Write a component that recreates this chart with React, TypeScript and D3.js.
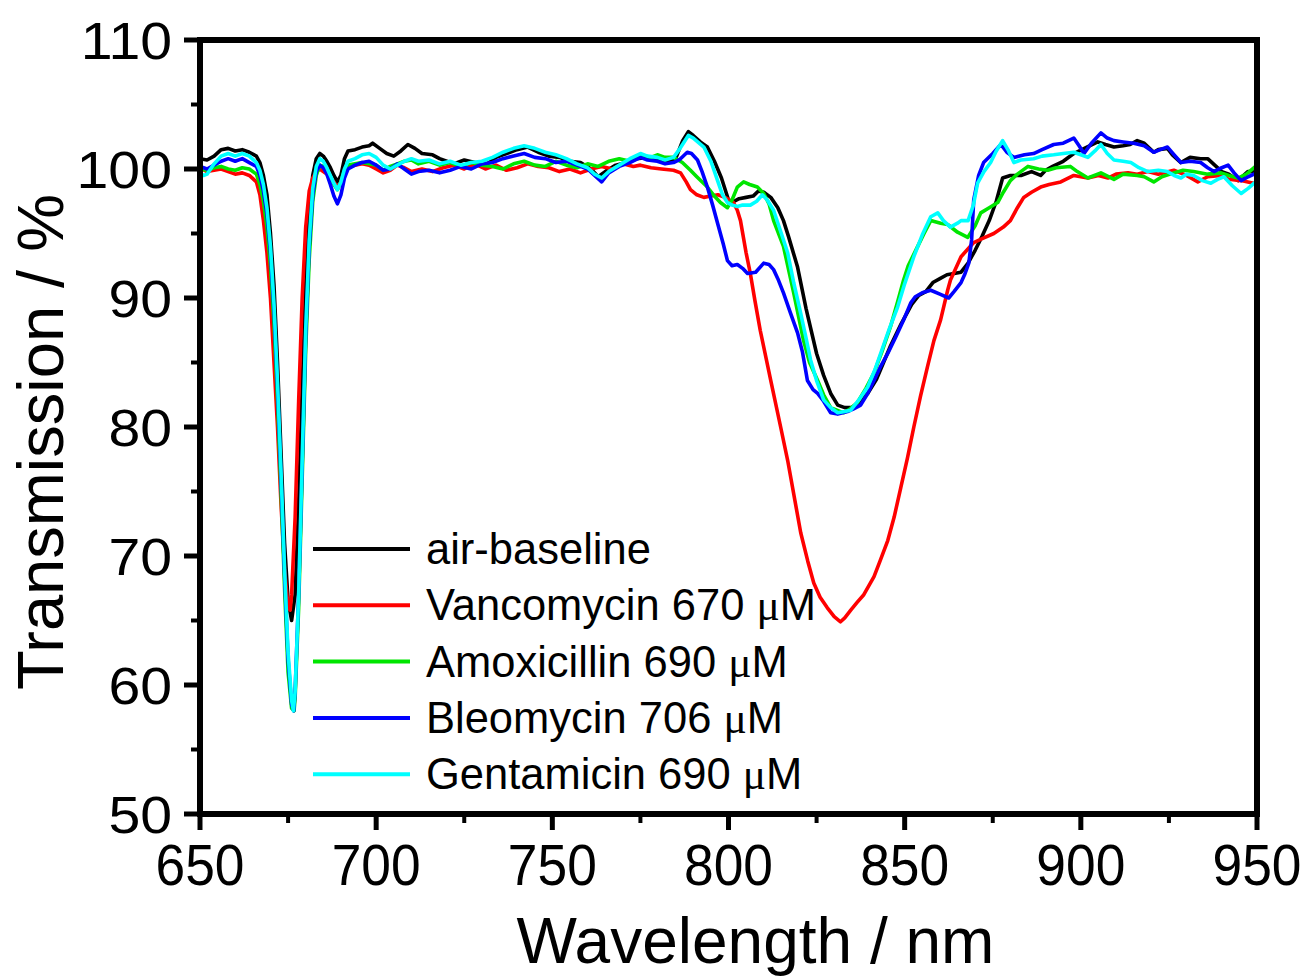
import React from "react";
import * as d3 from "d3";

// ---------- data ----------
const xTicks = [650, 700, 750, 800, 850, 900, 950];
const yTicks = [50, 60, 70, 80, 90, 100, 110];

const airBaseline: [number, number][] = [
  [650, 100.8], [652, 100.7], [654, 101.0], [656, 101.5], [658, 101.6], [660, 101.4], [662, 101.5], [664, 101.3], [666, 101.0],
  [667, 100.5], [668, 99.5], [669, 98], [670, 95], [671, 91], [672, 85], [673, 78], [674, 71], [675, 66.5], [676, 65],
  [677, 67], [678, 74], [679, 83], [680, 91], [681, 96.5], [682, 99.5], [683, 100.8], [684, 101.2], [685, 101.0], [686, 100.6],
  [687, 100.1], [688, 99.5], [689, 99.0], [690, 99.5], [691, 100.8], [692, 101.4], [694, 101.5], [696, 101.7], [698, 101.8],
  [699, 102.0], [701, 101.6], [703, 101.2], [705, 101.0], [707, 101.4], [709, 101.9], [711, 101.6], [713, 101.2], [716, 101.1],
  [718, 100.8], [720, 100.6], [722, 100.4], [725, 100.7], [728, 100.5], [731, 100.3], [734, 100.9], [737, 101.2], [740, 101.5],
  [743, 101.7], [746, 101.3], [749, 101.0], [752, 100.9], [755, 100.6], [758, 100.5], [761, 100.0], [763, 99.4], [765, 99.8],
  [768, 100.3], [771, 100.5], [774, 100.8], [777, 100.9], [780, 100.7], [783, 100.6], [785, 100.8], [787, 102.2], [788.6, 102.9],
  [790, 102.6], [792, 102.1], [794, 101.7], [796, 100.6], [798, 99.3], [800, 97.6], [801, 97.4], [803, 97.7], [805, 97.8],
  [807, 97.9], [808.5, 98.3], [810, 98.2], [812, 97.8], [814, 97.0], [815.6, 96.0], [817, 94.8], [819.6, 92.4], [822, 89.2],
  [825, 85.7], [827, 84.0], [829, 82.6], [831, 81.7], [833, 81.5], [835, 81.5], [837, 81.9], [839.5, 82.6], [842, 83.7],
  [844, 85.0], [846, 86.3], [849, 88.0], [852, 89.5], [854, 90.2], [856, 90.5], [858, 91.2], [860, 91.5], [862, 91.8],
  [864, 91.9], [866, 92.0], [868, 92.7], [870, 93.7], [872, 94.8], [874, 96.0], [876, 97.5], [877.8, 99.3], [880, 99.5],
  [883, 99.5], [886, 99.8], [888.6, 99.5], [890, 99.9], [892, 100.2], [895, 100.6], [898, 101.2], [901, 101.6], [904.8, 102.1],
  [907, 101.9], [909.4, 101.7], [912, 101.8], [914, 101.9], [916, 102.2], [918, 102.0], [920.7, 101.3], [922, 101.5],
  [924.6, 101.6], [926, 101.1], [928.4, 100.5], [931, 100.9], [934, 100.8], [936, 100.8], [938, 100.3], [940, 99.8],
  [942, 99.6], [944.6, 99.1], [947.4, 99.8], [950, 99.8],
];

const vancomycin: [number, number][] = [
  [650, 100.1], [652, 99.8], [654, 99.9], [656, 100.0], [658, 99.8], [660, 99.6], [662, 99.7], [664, 99.5], [666, 99.0],
  [667, 98.0], [668, 96.0], [669, 93.5], [670, 90], [671, 85], [672, 80], [673, 74], [674, 69], [675, 66], [675.6, 65.8],
  [676, 67], [677, 73], [678, 82], [679, 90], [680, 95.5], [681, 98.3], [682, 99.3], [683, 99.8], [684, 100.0], [685, 99.8],
  [686, 99.6], [687, 99.3], [688, 99.0], [689, 98.6], [690, 99.0], [691, 99.8], [692, 100.2], [694, 100.3], [696, 100.4],
  [698, 100.3], [700, 100.0], [702, 99.7], [704, 99.9], [706, 100.3], [708, 100.1], [710, 99.8], [713, 100.0], [716, 99.8],
  [719, 100.1], [722, 100.3], [725, 100.0], [728, 100.4], [731, 100.0], [734, 100.3], [737, 99.9], [740, 100.1], [743, 100.4],
  [746, 100.2], [749, 100.1], [752, 99.8], [755, 100.0], [758, 99.7], [761, 100.0], [764, 100.2], [767, 100.0], [770, 100.4],
  [773, 100.2], [775, 100.3], [778, 100.1], [781, 100.0], [784.4, 99.9], [786.4, 99.7], [788, 99.0], [789.2, 98.4], [791, 98.0],
  [793, 97.8], [795, 97.9], [797, 98.0], [799, 97.8], [801.4, 97.4], [802.5, 96.8], [803.4, 96.0], [805, 93.5], [806.2, 91.9],
  [807.5, 89.8], [809, 87.5], [812, 83.6], [814.8, 80.0], [816.8, 77.4], [820.5, 71.8], [822.5, 69.6], [824.2, 67.9],
  [826, 66.8], [828, 66.0], [830, 65.3], [831.8, 64.9], [833, 65.2], [834.7, 65.8], [836.5, 66.4], [838.4, 67.0], [841.3, 68.4],
  [843, 69.6], [845.2, 71.2], [847, 73.0], [848.9, 75.3], [850.8, 77.6], [852.6, 80.0], [854.5, 82.4], [856.5, 84.7],
  [858.3, 86.7], [860.2, 88.3], [862.2, 90.6], [863, 91.4], [866, 93.2], [869.6, 94.3], [872, 94.6], [875.3, 95.0], [878, 95.5],
  [880, 96.0], [882, 97.0], [883.8, 97.8], [886, 98.2], [888.6, 98.6], [891, 98.8], [894.3, 99.0], [898, 99.5], [902, 99.3],
  [905, 99.5], [907.7, 99.3], [910, 99.6], [913.4, 99.7], [916, 99.6], [919, 99.8], [922, 99.6], [926.4, 99.9], [930, 99.5],
  [933.2, 99.0], [936, 99.4], [939.8, 99.5], [942, 99.2], [945.5, 99.1], [949, 98.9], [950, 99.0],
];

const amoxicillin: [number, number][] = [
  [650, 100.0], [652, 99.9], [654, 100.1], [656, 100.2], [658, 100.0], [660, 99.9], [662, 100.1], [664, 100.0], [666, 99.6],
  [667, 98.8], [668, 97.5], [669, 95.5], [670, 92.5], [671, 88], [672, 82], [673, 75], [674, 67.5], [675, 61], [676, 58.2],
  [676.7, 58.0], [677, 59], [678, 66], [679, 76], [680, 86], [681, 93], [682, 97.5], [683, 99.5], [684, 100.3], [685, 100.2],
  [686, 99.9], [687, 99.4], [688, 98.8], [689, 98.4], [690, 99.0], [691, 99.9], [692, 100.3], [694, 100.4], [696, 100.5],
  [698, 100.4], [700, 100.3], [702, 99.9], [704, 100.2], [706, 100.4], [708, 100.6], [710, 100.7], [712, 100.4], [715, 100.6],
  [718, 100.3], [721, 100.5], [724, 100.2], [727, 100.5], [730, 100.3], [733, 100.2], [736, 100.0], [739, 100.4], [742, 100.6],
  [745, 100.3], [748, 100.2], [751, 100.6], [754, 100.3], [757, 100.1], [760, 100.4], [763, 100.2], [766, 100.6], [769, 100.8],
  [772, 100.6], [775, 101.1], [778, 100.9], [779.8, 101.1], [782, 100.9], [784.4, 100.9], [786.9, 100.5], [789.2, 99.9],
  [791, 99.4], [794, 98.6], [796, 97.9], [797.7, 97.4], [799.7, 97.0], [801, 97.6], [802.5, 98.6], [804.3, 99.0], [806, 98.8],
  [808.2, 98.6], [810, 98.1], [811.5, 97.3], [812.8, 96.0], [815.6, 94.0], [818.5, 90.4], [821.3, 86.7], [823, 85.0],
  [825.3, 83.6], [827, 82.5], [829, 81.5], [832.7, 81.1], [834.5, 81.4], [836.6, 81.9], [839, 83.0], [841.3, 84.2],
  [843.5, 85.8], [846, 87.8], [848, 89.7], [849.7, 91.4], [851, 92.5], [853.7, 94.0], [855.5, 95.0], [857.4, 96.0],
  [860.2, 95.8], [862.2, 95.7], [865, 95.1], [867.9, 94.7], [870, 95.6], [871.6, 96.6], [874, 97.0], [876.4, 97.4], [878, 98.2],
  [880, 99.1], [882, 99.6], [885, 100.2], [888, 100.0], [890.6, 99.9], [893, 100.1], [897, 100.2], [899, 99.8], [902, 99.3],
  [905.7, 99.7], [909.4, 99.2], [912, 99.6], [916, 99.5], [918, 99.4], [920.7, 99.0], [923, 99.4], [926.4, 99.7], [929, 99.9],
  [932, 99.8], [936, 99.6], [939.8, 99.7], [942, 99.5], [944.6, 99.3], [947, 99.6], [950, 100.3],
];

const bleomycin: [number, number][] = [
  [650, 100.2], [652, 100.0], [654, 100.3], [656, 100.6], [658, 100.8], [660, 100.6], [662, 100.8], [664, 100.5], [666, 100.2],
  [667, 99.5], [668, 98.3], [669, 96.5], [670, 93.5], [671, 89], [672, 83], [673, 76], [674, 68.5], [675, 62], [676, 58.5],
  [676.6, 58.0], [677, 59.5], [678, 67], [679, 77], [680, 87], [681, 94], [682, 98], [683, 99.8], [684, 100.3], [685, 100.1],
  [686, 99.6], [687, 98.8], [688, 97.9], [689, 97.3], [690, 98.0], [691, 99.3], [692, 100.0], [694, 100.3], [696, 100.5],
  [698, 100.6], [700, 100.3], [702, 99.9], [704, 100.0], [706, 100.4], [708, 100.0], [710, 99.6], [712, 99.8], [715, 99.9],
  [718, 99.7], [721, 99.9], [724, 100.2], [727, 100.0], [730, 100.4], [733, 100.5], [736, 100.8], [739, 101.0], [742, 101.2],
  [745, 100.9], [748, 100.8], [751, 100.5], [754, 100.6], [757, 100.3], [760, 100.0], [762, 99.5], [764, 99.0], [766, 99.7],
  [769, 100.2], [772, 100.5], [775, 100.9], [777, 100.7], [779.8, 100.6], [782, 100.4], [784.4, 100.5], [786, 100.7],
  [788.3, 101.3], [789.5, 101.2], [791.2, 100.7], [792.5, 99.8], [794, 98.6], [795.5, 97.2], [796.9, 95.8], [798.5, 94.2],
  [799.7, 92.9], [801, 92.5], [802.5, 92.6], [804, 92.3], [805.4, 91.9], [807.7, 92.0], [810, 92.7], [811.5, 92.6],
  [812.8, 92.2], [814, 91.5], [815.6, 90.4], [817.5, 88.9], [819.6, 87.3], [821, 85.8], [822.4, 83.6], [824, 82.9],
  [825.3, 82.6], [827, 82.0], [829, 81.1], [831, 81.0], [833.8, 81.2], [835.5, 81.4], [837.5, 81.7], [839.5, 82.6],
  [841.3, 83.6], [843, 84.6], [845.2, 85.7], [847.5, 87.0], [849.7, 88.3], [851.7, 89.6], [853, 90.1], [855, 90.4],
  [857.4, 90.6], [860, 90.3], [862.5, 90.0], [864, 90.5], [866, 91.2], [867, 91.8], [868.2, 92.7], [869, 94.5], [869.6, 97.6],
  [871, 99.5], [872.4, 100.5], [875, 101.2], [877.3, 101.9], [879, 101.3], [881, 100.9], [884, 101.1], [886.6, 101.2],
  [889, 101.5], [892.3, 101.9], [895, 102.0], [898, 102.4], [899.5, 101.8], [900.9, 101.2], [903, 102.0], [905.7, 102.8],
  [907.5, 102.4], [909.4, 102.2], [912, 102.1], [915, 102.0], [918, 101.8], [920.7, 101.3], [922.5, 101.5], [924.6, 101.7],
  [926.5, 101.1], [928.4, 100.5], [931, 100.6], [934, 100.5], [936, 100.1], [937.8, 99.8], [940, 100.1], [941.8, 100.3],
  [943.5, 99.7], [945.5, 99.1], [947.5, 99.4], [950, 99.7],
];

const gentamicin: [number, number][] = [
  [650, 99.7], [651, 99.5], [652, 99.6], [654, 100.4], [656, 101.0], [658, 101.2], [660, 101.0], [662, 101.2], [664, 101.0],
  [666, 100.5], [667, 99.9], [668, 98.8], [669, 97.0], [670, 94.0], [671, 89.5], [672, 83.5], [673, 76.5], [674, 69],
  [675, 62.5], [676, 58.8], [676.5, 58.0], [677, 59.5], [678, 67], [679, 77.5], [680, 87.5], [681, 94.5], [682, 98.5],
  [683, 100.2], [684, 100.8], [685, 100.6], [686, 100.1], [687, 99.5], [688, 98.9], [689, 98.4], [690, 99.0], [691, 100.0],
  [692, 100.6], [694, 100.8], [696, 101.1], [698, 101.2], [700, 100.9], [702, 100.3], [704, 100.0], [706, 100.3], [708, 100.6],
  [710, 100.8], [712, 100.6], [715, 100.7], [718, 100.4], [721, 100.6], [724, 100.3], [727, 100.5], [730, 100.6], [733, 100.9],
  [736, 101.3], [739, 101.6], [742, 101.8], [745, 101.6], [748, 101.3], [751, 101.1], [754, 100.8], [757, 100.4], [760, 100.1],
  [762, 99.6], [764, 99.3], [766, 99.8], [769, 100.3], [772, 100.8], [775, 101.2], [777, 101.0], [779.8, 100.9], [782, 100.7],
  [784.4, 100.9], [786, 101.5], [788.6, 102.6], [790, 102.4], [793, 101.7], [795, 100.6], [796.9, 99.1], [798.3, 98.0],
  [799.7, 97.4], [801, 97.2], [802.5, 97.1], [804, 97.2], [806.2, 97.2], [808, 97.5], [809.6, 98.0], [811, 97.6], [812.8, 96.8],
  [815, 95.0], [816.8, 93.5], [818.5, 91.2], [820.5, 88.8], [822, 86.9], [823.3, 85.2], [825, 83.6], [827, 82.1], [829, 81.5],
  [831, 81.1], [833, 81.2], [834.7, 81.3], [837, 82.1], [839.5, 83.1], [841.5, 84.4], [843.2, 85.7], [845.5, 87.5], [848, 89.3],
  [850, 91.1], [852.6, 93.2], [855, 94.9], [857.4, 96.3], [859.4, 96.6], [861, 96.0], [863, 95.5], [865, 95.8], [866, 96.0],
  [868, 96.0], [869.5, 97.2], [870.7, 98.9], [872.5, 99.8], [874.4, 100.5], [876, 101.4], [877.8, 102.2], [879.5, 101.4],
  [881, 100.5], [883, 100.7], [886.6, 100.8], [889, 101.0], [892.3, 101.1], [895, 101.2], [898, 101.3], [900, 101.1],
  [902, 100.9], [904, 101.4], [905.7, 101.9], [907.5, 101.2], [909.4, 100.7], [912, 100.6], [914.2, 100.5], [916.5, 100.1],
  [919, 99.8], [922, 99.9], [924.6, 99.8], [926.5, 99.5], [928.4, 99.3], [930, 99.6], [932, 99.5], [934.5, 99.1], [936.9, 98.9],
  [938.8, 99.2], [940.6, 99.4], [943, 98.7], [945.5, 98.1], [947.5, 98.5], [950, 99.1],
];

const seriesNames = ["air-baseline", "Vancomycin 670 ", "Amoxicillin 690 ", "Bleomycin 706 ", "Gentamicin 690 "];
const seriesUnits = ["", "\u03bcM", "\u03bcM", "\u03bcM", "\u03bcM"];
const seriesColors = ["#000000", "#ff0000", "#00e600", "#0000ff", "#00ffff"];
const seriesData = [airBaseline, vancomycin, amoxicillin, bleomycin, gentamicin];

// ---------- layout ----------
const W = 1306;
const H = 977;
const left = 200;
const right = 1257;
const top = 40;
const bottom = 814;
const FONT = "Liberation Sans, Arial, Helvetica, sans-serif";

export default function App() {
  const x = d3.scaleLinear().domain([650, 950]).range([left, right]);
  const y = d3.scaleLinear().domain([50, 110]).range([bottom, top]);
  const line = d3
    .line<[number, number]>()
    .x((d) => x(d[0]))
    .y((d) => y(d[1]));

  const xMinor = d3.range(675, 950, 50);
  const yMinor = d3.range(55, 110, 10);

  return (
    <svg
      width={W}
      height={H}
      viewBox={`0 0 ${W} ${H}`}
      style={{ position: "absolute", left: 0, top: 0, background: "#fff" }}
    >
      <rect x={0} y={0} width={W} height={H} fill="#fff" />
      <defs>
        <clipPath id="plot">
          <rect x={left} y={top} width={right - left} height={bottom - top} />
        </clipPath>
      </defs>

      {/* series */}
      <g clipPath="url(#plot)">
        {seriesData.map((s, i) => (
          <path
            key={i}
            d={line(s) || ""}
            fill="none"
            stroke={seriesColors[i]}
            strokeWidth={3.6}
            strokeLinejoin="round"
          />
        ))}
      </g>

      {/* frame */}
      <rect x={left} y={top} width={right - left} height={bottom - top} fill="none" stroke="#000" strokeWidth={6} />

      {/* y ticks */}
      {yTicks.map((t) => (
        <line key={"yt" + t} x1={left - 16} x2={left} y1={y(t)} y2={y(t)} stroke="#000" strokeWidth={5} />
      ))}
      {yMinor.map((t) => (
        <line key={"ym" + t} x1={left - 9} x2={left} y1={y(t)} y2={y(t)} stroke="#000" strokeWidth={4} />
      ))}
      {yTicks.map((t) => (
        <text
          key={"yl" + t}
          transform={`translate(172, ${y(t) + 19}) scale(1.1, 1)`}
          textAnchor="end"
          fontFamily={FONT}
          fontSize={52}
          fill="#000"
        >
          {t}
        </text>
      ))}

      {/* x ticks */}
      {xTicks.map((t) => (
        <line key={"xt" + t} x1={x(t)} x2={x(t)} y1={bottom} y2={bottom + 16} stroke="#000" strokeWidth={5} />
      ))}
      {xMinor.map((t) => (
        <line key={"xm" + t} x1={x(t)} x2={x(t)} y1={bottom} y2={bottom + 9} stroke="#000" strokeWidth={4} />
      ))}
      {xTicks.map((t) => (
        <text
          key={"xl" + t}
          transform={`translate(${x(t)}, 885) scale(0.92, 1)`}
          textAnchor="middle"
          fontFamily={FONT}
          fontSize={58}
          fill="#000"
        >
          {t}
        </text>
      ))}

      {/* axis titles */}
      <text x={(left + right) / 2 + 27} y={963} textAnchor="middle" fontFamily={FONT} fontSize={64} fill="#000">
        Wavelength / nm
      </text>
      <text
        transform={`translate(63, 442) rotate(-90)`}
        textAnchor="middle"
        fontFamily={FONT}
        fontSize={65}
        fill="#000"
      >
        Transmission / %
      </text>

      {/* legend */}
      {seriesNames.map((name, i) => {
        const ly = 549 + i * 56.3;
        return (
          <g key={"lg" + i}>
            <line x1={313} x2={410} y1={ly} y2={ly} stroke={seriesColors[i]} strokeWidth={4} />
            <text x={426} y={ly + 15} fontFamily={FONT} fontSize={43.5} fill="#000">
              {name}
              {seriesUnits[i] && (
                <tspan fontFamily="Liberation Serif, Times New Roman, serif">{seriesUnits[i][0]}</tspan>
              )}
              {seriesUnits[i] && seriesUnits[i].slice(1)}
            </text>
          </g>
        );
      })}
    </svg>
  );
}
